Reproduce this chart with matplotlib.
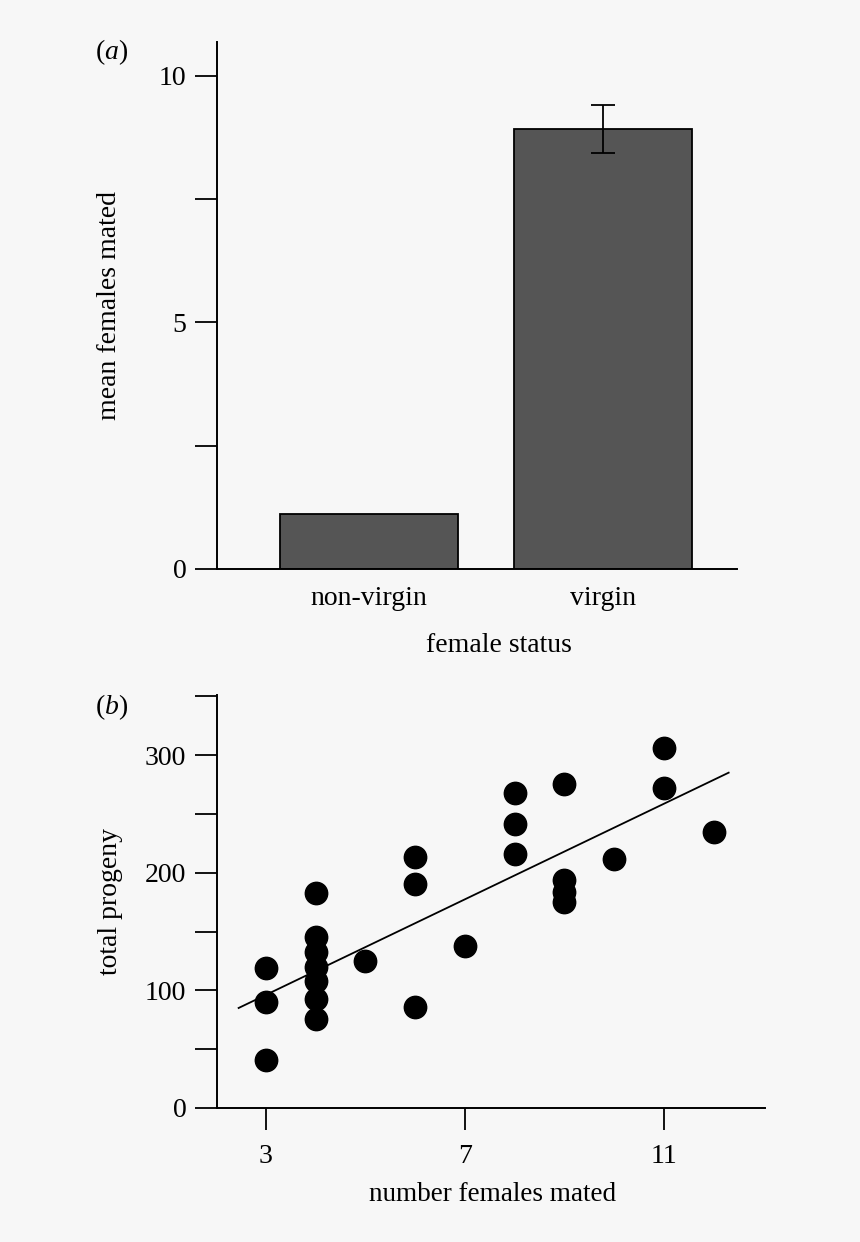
import matplotlib.pyplot as plt
from matplotlib.ticker import FixedLocator

# panel (a): mean females mated by female status
status = ["non-virgin", "virgin"]
mean_mated = [1.12, 8.92]
mated_err = [0.0, 0.49]

# panel (b): total progeny vs number of females mated
n_mated = [3, 3, 3,
           4, 4, 4, 4, 4, 4, 4,
           5,
           6, 6, 6,
           7,
           8, 8, 8,
           9, 9, 9, 9,
           10,
           11, 11,
           12]
progeny = [119, 90, 41,
           183, 145, 133, 120, 108, 93, 76,
           125,
           213, 190, 86,
           138,
           268, 241, 216,
           275, 194, 184, 175,
           212,
           306, 272,
           235]
fit_x = [2.45, 12.3]
fit_y = [85, 285]

bg = "#f7f7f7"
plt.rcParams["font.family"] = ["Liberation Serif", "DejaVu Serif"]
plt.rcParams["mathtext.fontset"] = "custom"
plt.rcParams["mathtext.rm"] = "Liberation Serif"
plt.rcParams["mathtext.it"] = "Liberation Serif:italic"
plt.rcParams["font.size"] = 20

fig = plt.figure(figsize=(8.6, 12.42), dpi=100, facecolor=bg)


def style_axes(ax):
    ax.set_facecolor(bg)
    for side in ("top", "right"):
        ax.spines[side].set_visible(False)
    for side in ("left", "bottom"):
        ax.spines[side].set_linewidth(1.4)
    ax.tick_params(which="both", direction="out", length=16, width=1.3,
                   pad=6, labelsize=20)


# (a) bar chart
ax1 = fig.add_axes([0.2523, 0.5419, 0.6047, 0.4243])
style_axes(ax1)
pos = list(range(len(status)))
ax1.bar(pos, mean_mated, width=0.76, color="#555555", edgecolor="black",
        linewidth=1.3)
ax1.errorbar(pos[1], mean_mated[1], yerr=mated_err[1], color="black",
             capsize=8.5, elinewidth=1.3, capthick=1.3, fmt="none")
ax1.set_xlim(-0.65, 1.573)
ax1.set_ylim(0, 10.69)
ax1.set_xticks(pos)
ax1.set_xticklabels(status)
ax1.tick_params(axis="x", length=0, pad=12)
ax1.set_yticks([0, 5, 10])
ax1.yaxis.set_minor_locator(FixedLocator([2.5, 7.5]))
ax1.set_xlabel("female status", va="center")
ax1.xaxis.set_label_coords(0.543, -0.146)
ax1.set_ylabel("mean females mated", va="center")
ax1.yaxis.set_label_coords(-0.206, 0.5)
fig.text(0.11, 0.958, "($\\mathit{a}$)", fontsize=20, va="center")

# (b) scatter with fitted line
ax2 = fig.add_axes([0.2523, 0.1079, 0.6372, 0.3325])
style_axes(ax2)
ax2.scatter(n_mated, progeny, s=260, color="black", zorder=3)
ax2.plot(fit_x, fit_y, color="black", linewidth=1.3)
ax2.set_xlim(2.015, 13.03)
ax2.set_ylim(0, 351)
ax2.set_xticks([3, 7, 11])
ax2.set_yticks([0, 100, 200, 300])
ax2.yaxis.set_minor_locator(FixedLocator([50, 150, 250, 350]))
ax2.tick_params(axis="x", pad=10)
ax2.set_xlabel("number females mated", va="center", fontsize=19.5)
ax2.xaxis.set_label_coords(0.502, -0.21)
ax2.set_ylabel("total progeny", va="center")
ax2.yaxis.set_label_coords(-0.195, 0.5)
fig.text(0.11, 0.431, "($\\mathit{b}$)", fontsize=20, va="center")

fig.savefig("out.png", dpi=100, facecolor=bg)
